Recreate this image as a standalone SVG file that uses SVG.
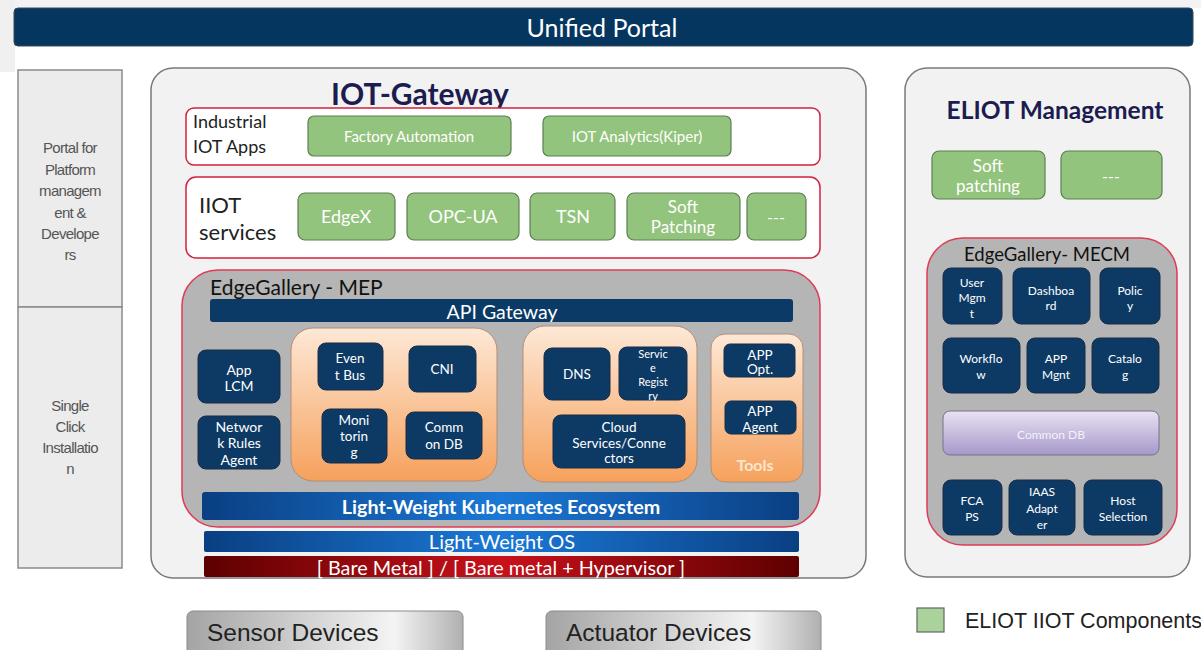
<svg xmlns="http://www.w3.org/2000/svg" width="1201" height="650" viewBox="0 0 1201 650">
<defs>
<linearGradient id="orange" x1="0" y1="0" x2="0" y2="1"><stop offset="0" stop-color="#fde8d6"/><stop offset="1" stop-color="#f6a15c"/></linearGradient>
<linearGradient id="blue" x1="0" y1="0" x2="1" y2="0"><stop offset="0" stop-color="#0a3f82"/><stop offset="0.5" stop-color="#1b78d6"/><stop offset="1" stop-color="#0a3f82"/></linearGradient>
<linearGradient id="red" x1="0" y1="0" x2="1" y2="0"><stop offset="0" stop-color="#5e0000"/><stop offset="0.5" stop-color="#c8111b"/><stop offset="1" stop-color="#5e0000"/></linearGradient>
<linearGradient id="purple" x1="0" y1="0" x2="0" y2="1"><stop offset="0" stop-color="#e9e3f3"/><stop offset="1" stop-color="#a797c9"/></linearGradient>
<linearGradient id="dev" x1="0" y1="0" x2="1" y2="0"><stop offset="0" stop-color="#a4a4a4"/><stop offset="0.75" stop-color="#f4f4f4"/><stop offset="1" stop-color="#b0b0b0"/></linearGradient>
</defs>
<style>
.t{font-family:Lato,"Liberation Sans",sans-serif;dominant-baseline:central;text-anchor:middle}
.w{fill:#ffffff}
.navy{fill:#0d3a65;stroke:#1d2d45;stroke-width:1}
.green{fill:#93c47d;stroke:#5d7f52;stroke-width:1.2}
.redbox{fill:#ffffff;stroke:#d3203c;stroke-width:1.5}
.mep{fill:#b5b5b5;stroke:#df3a55;stroke-width:1.5}
.cont{fill:#f2f2f2;stroke:#7a7a7a;stroke-width:1.5}
.orng{fill:url(#orange);stroke:#b38d78;stroke-width:1}
.side{fill:#ececec;stroke:#8a8a8a;stroke-width:1.5}
.arial{font-family:"Liberation Sans",Arial,sans-serif}
</style>
<rect x="0" y="0" width="1201" height="650" fill="#ffffff"/>
<rect x="0" y="0" width="1201" height="8" fill="#f3f3f3"/>
<rect x="0" y="0" width="15" height="72" fill="#f0f0f0"/>

<g id="unified-portal">
<rect x="14" y="8" width="1179" height="38" rx="4" fill="#04365f" stroke="#3a4a5a" stroke-width="1"/>
<text class="t w" x="602" y="27" font-size="25">Unified Portal</text>
</g>

<g id="portal-platform">
<rect class="side" x="18" y="70" width="104" height="237"/>
<text class="arial" x="70" fill="#555" font-size="15" text-anchor="middle" letter-spacing="-0.7"><tspan x="70" y="153">Portal for</tspan><tspan x="70" y="175">Platform</tspan><tspan x="70" y="196">managem</tspan><tspan x="70" y="218">ent &amp;</tspan><tspan x="70" y="239">Develope</tspan><tspan x="70" y="260">rs</tspan></text>
</g>
<g id="single-click">
<rect class="side" x="18" y="307" width="104" height="261"/>
<text class="arial" x="70" fill="#555" font-size="15" text-anchor="middle" letter-spacing="-0.7"><tspan x="70" y="411">Single</tspan><tspan x="70" y="432">Click</tspan><tspan x="70" y="453">Installatio</tspan><tspan x="70" y="474">n</tspan></text>
</g>

<g id="iot-gateway">
<rect class="cont" x="151" y="68" width="715" height="510" rx="22"/>
<text x="420" y="105" font-family="Lato,'Liberation Sans',sans-serif" font-weight="bold" font-size="30" fill="#1c1c50" text-anchor="middle">IOT-Gateway</text>
</g>

<g id="industrial-iot-apps">
<rect class="redbox" x="186" y="108" width="634" height="57" rx="8"/>
<text font-family="Lato,'Liberation Sans',sans-serif" font-size="18" fill="#222"><tspan x="193" y="128">Industrial</tspan><tspan x="193" y="153">IOT Apps</tspan></text>
</g>
<g id="factory-automation"><rect class="green" x="308" y="116" width="203" height="40" rx="6"/><text class="t w" x="409" y="136" font-size="15">Factory Automation</text></g>
<g id="iot-analytics"><rect class="green" x="543" y="116" width="188" height="40" rx="6"/><text class="t w" x="637" y="136" font-size="15">IOT Analytics(Kiper)</text></g>

<g id="iiot-services">
<rect class="redbox" x="186" y="177" width="634" height="81" rx="10"/>
<text font-family="Lato,'Liberation Sans',sans-serif" font-size="22" fill="#222"><tspan x="199" y="213">IIOT</tspan><tspan x="199" y="240">services</tspan></text>
</g>
<g id="edgex"><rect class="green" x="298" y="193" width="97" height="47" rx="7"/><text class="t w" x="346" y="216" font-size="18">EdgeX</text></g>
<g id="opc-ua"><rect class="green" x="407" y="193" width="112" height="47" rx="7"/><text class="t w" x="463" y="216" font-size="18">OPC-UA</text></g>
<g id="tsn"><rect class="green" x="530" y="193" width="85" height="47" rx="7"/><text class="t w" x="573" y="216" font-size="18">TSN</text></g>
<g id="soft-patching-iiot"><rect class="green" x="627" y="193" width="113" height="47" rx="7"/><text class="t w" x="683" y="206" font-size="17">Soft</text><text class="t w" x="683" y="226" font-size="17">Patching</text></g>
<g id="more-iiot"><rect class="green" x="747" y="193" width="59" height="47" rx="7"/><text class="t w" x="776" y="216" font-size="16">---</text></g>

<g id="edgegallery-mep">
<rect class="mep" x="182" y="270" width="638" height="257" rx="36"/>
<text x="210" y="295" font-family="Lato,'Liberation Sans',sans-serif" font-size="21" fill="#111">EdgeGallery - MEP</text>
</g>
<g id="api-gateway"><rect x="210" y="299" width="583" height="23" rx="3" fill="#0b3a66"/><text class="t w" x="502" y="311" font-size="19.5">API Gateway</text></g>

<g id="mep-core"><rect class="orng" x="291" y="328" width="206" height="153" rx="22"/></g>
<g id="event-bus"><rect class="navy" x="318" y="343" width="65" height="47" rx="8"/><text class="t w" x="350" y="358" font-size="13.5">Even</text><text class="t w" x="350" y="375" font-size="13.5">t Bus</text></g>
<g id="cni"><rect class="navy" x="409" y="346" width="67" height="46" rx="8"/><text class="t w" x="442" y="369" font-size="13.5">CNI</text></g>
<g id="monitoring"><rect class="navy" x="322" y="409" width="65" height="54" rx="8"/><text class="t w" x="354" y="420" font-size="13.5">Moni</text><text class="t w" x="354" y="436" font-size="13.5">torin</text><text class="t w" x="354" y="452" font-size="13.5">g</text></g>
<g id="common-db-mep"><rect class="navy" x="406" y="412" width="76" height="47" rx="8"/><text class="t w" x="444" y="427" font-size="13.5">Comm</text><text class="t w" x="444" y="444" font-size="13.5">on DB</text></g>

<g id="app-lcm"><rect class="navy" x="198" y="350" width="82" height="53" rx="8"/><text class="t w" x="239" y="369" font-size="14">App</text><text class="t w" x="239" y="385" font-size="14">LCM</text></g>
<g id="network-rules-agent"><rect class="navy" x="198" y="416" width="82" height="53" rx="8"/><text class="t w" x="239" y="426" font-size="14">Networ</text><text class="t w" x="239" y="442" font-size="14">k Rules</text><text class="t w" x="239" y="459" font-size="14">Agent</text></g>

<g id="mep-services"><rect class="orng" x="523" y="326" width="174" height="156" rx="22"/></g>
<g id="dns"><rect class="navy" x="544" y="348" width="66" height="52" rx="8"/><text class="t w" x="577" y="374" font-size="13.5">DNS</text></g>
<g id="service-registry"><rect class="navy" x="619" y="347" width="68" height="53" rx="8"/><text class="t w" x="653" y="353" font-size="11">Servic</text><text class="t w" x="653" y="367" font-size="11">e</text><text class="t w" x="653" y="381" font-size="11">Regist</text><text class="t w" x="653" y="395" font-size="11">ry</text></g>
<g id="cloud-services"><rect class="navy" x="553" y="415" width="132" height="53" rx="8"/><text class="t w" x="619" y="427" font-size="13.5">Cloud</text><text class="t w" x="619" y="443" font-size="13.5">Services/Conne</text><text class="t w" x="619" y="458" font-size="13.5">ctors</text></g>

<g id="tools"><rect class="orng" x="711" y="334" width="92" height="148" rx="14"/><text class="t" x="755" y="464" font-size="16" font-weight="bold" fill="#fde6cc">Tools</text></g>
<g id="app-opt"><rect class="navy" x="724" y="344" width="71" height="33" rx="6"/><text class="t w" x="760" y="355" font-size="13.5">APP</text><text class="t w" x="760" y="369" font-size="13.5">Opt.</text></g>
<g id="app-agent"><rect class="navy" x="725" y="401" width="71" height="33" rx="6"/><text class="t w" x="760" y="411" font-size="13.5">APP</text><text class="t w" x="760" y="427" font-size="13.5">Agent</text></g>

<g id="k8s"><rect x="202" y="492" width="597" height="28" rx="3" fill="url(#blue)"/><text class="t w" x="501" y="506" font-size="19.7" font-weight="bold">Light-Weight Kubernetes Ecosystem</text></g>
<g id="os"><rect x="204" y="531" width="595" height="21" rx="2" fill="url(#blue)"/><text class="t w" x="502" y="541" font-size="20">Light-Weight OS</text></g>
<g id="bare-metal"><rect x="204" y="556" width="595" height="21" rx="2" fill="url(#red)"/><text class="t w" x="501" y="567" font-size="19.8">[ Bare Metal ] / [ Bare metal + Hypervisor ]</text></g>

<g id="sensor-devices"><rect x="187" y="611" width="276" height="50" rx="6" fill="url(#dev)" stroke="#8a8a8a" stroke-width="1"/><text class="arial" x="207" y="641" font-size="24.5" fill="#222">Sensor Devices</text></g>
<g id="actuator-devices"><rect x="546" y="611" width="275" height="50" rx="6" fill="url(#dev)" stroke="#8a8a8a" stroke-width="1"/><text class="arial" x="566" y="641" font-size="24.5" fill="#222">Actuator Devices</text></g>

<g id="eliot-management">
<rect class="cont" x="905" y="68" width="285" height="509" rx="22"/>
<text x="1055" y="119" font-family="Lato,'Liberation Sans',sans-serif" font-weight="bold" font-size="24.5" fill="#1c1c50" text-anchor="middle">ELIOT Management</text>
</g>
<g id="soft-patching-mgmt"><rect class="green" x="932" y="151" width="113" height="48" rx="7"/><text class="t w" x="988" y="165" font-size="17">Soft</text><text class="t w" x="988" y="185" font-size="17">patching</text></g>
<g id="more-mgmt"><rect class="green" x="1061" y="151" width="101" height="48" rx="7"/><text class="t w" x="1111" y="175" font-size="16">---</text></g>

<g id="edgegallery-mecm">
<rect class="mep" x="927" y="238" width="250" height="307" rx="36"/>
<text x="1047" y="261" font-family="Lato,'Liberation Sans',sans-serif" font-size="18.5" fill="#111" text-anchor="middle">EdgeGallery- MECM</text>
</g>
<g id="user-mgmt"><rect class="navy" x="943" y="268" width="59" height="56" rx="8"/><text class="t w" x="972" y="282" font-size="12">User</text><text class="t w" x="972" y="297" font-size="12">Mgm</text><text class="t w" x="972" y="313" font-size="12">t</text></g>
<g id="dashboard"><rect class="navy" x="1013" y="268" width="77" height="56" rx="8"/><text class="t w" x="1051" y="290" font-size="12">Dashboa</text><text class="t w" x="1051" y="305" font-size="12">rd</text></g>
<g id="policy"><rect class="navy" x="1100" y="268" width="60" height="56" rx="8"/><text class="t w" x="1130" y="290" font-size="12">Polic</text><text class="t w" x="1130" y="305" font-size="12">y</text></g>
<g id="workflow"><rect class="navy" x="943" y="338" width="77" height="55" rx="8"/><text class="t w" x="981" y="358" font-size="12">Workflo</text><text class="t w" x="981" y="374" font-size="12">w</text></g>
<g id="app-mgnt"><rect class="navy" x="1027" y="338" width="58" height="55" rx="8"/><text class="t w" x="1056" y="358" font-size="12">APP</text><text class="t w" x="1056" y="374" font-size="12">Mgnt</text></g>
<g id="catalog"><rect class="navy" x="1092" y="338" width="67" height="55" rx="8"/><text class="t w" x="1125" y="358" font-size="12">Catalo</text><text class="t w" x="1125" y="374" font-size="12">g</text></g>
<g id="common-db-mecm"><rect x="943" y="411" width="216" height="44" rx="7" fill="url(#purple)" stroke="#77738a" stroke-width="1"/><text class="t" x="1051" y="434" font-size="12" fill="#f4f2f8">Common DB</text></g>
<g id="fcaps"><rect class="navy" x="943" y="480" width="59" height="55" rx="8"/><text class="t w" x="972" y="500" font-size="12">FCA</text><text class="t w" x="972" y="516" font-size="12">PS</text></g>
<g id="iaas-adapter"><rect class="navy" x="1009" y="480" width="66" height="55" rx="8"/><text class="t w" x="1042" y="491" font-size="12">IAAS</text><text class="t w" x="1042" y="508" font-size="12">Adapt</text><text class="t w" x="1042" y="524" font-size="12">er</text></g>
<g id="host-selection"><rect class="navy" x="1084" y="480" width="78" height="55" rx="8"/><text class="t w" x="1123" y="500" font-size="12">Host</text><text class="t w" x="1123" y="516" font-size="12">Selection</text></g>

<g id="legend"><rect x="917" y="608" width="27" height="24" fill="#a9d39a" stroke="#666" stroke-width="1.2"/><text class="arial" x="965" y="628" font-size="21.5" fill="#222">ELIOT IIOT Components</text></g>
<g id="connectors"></g>
</svg>
